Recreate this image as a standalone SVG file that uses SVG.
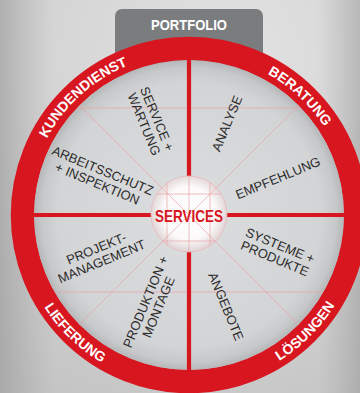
<svg xmlns="http://www.w3.org/2000/svg" width="360" height="393" viewBox="0 0 360 393">
<defs>
<radialGradient id="bg" cx="230" cy="60" r="380" gradientUnits="userSpaceOnUse">
<stop offset="0" stop-color="#e2e2e2"/>
<stop offset="0.6" stop-color="#d2d2d2"/>
<stop offset="1" stop-color="#c4c4c4"/>
</radialGradient>
<linearGradient id="bgL" x1="0" y1="0" x2="1" y2="0">
<stop offset="0" stop-color="#8e8e8e" stop-opacity="0.5"/>
<stop offset="0.15" stop-color="#9c9c9c" stop-opacity="0"/>
<stop offset="0.88" stop-color="#a0a0a0" stop-opacity="0"/>
<stop offset="1" stop-color="#8e8e8e" stop-opacity="0.45"/>
</linearGradient>
<radialGradient id="wheel" cx="189" cy="215" r="155" gradientUnits="userSpaceOnUse">
<stop offset="0" stop-color="#dcdddf"/>
<stop offset="0.85" stop-color="#d3d4d6"/>
<stop offset="0.95" stop-color="#c7c8ca"/>
<stop offset="1" stop-color="#b6b7b9"/>
</radialGradient>
<radialGradient id="hub" cx="189" cy="213" r="38" gradientUnits="userSpaceOnUse">
<stop offset="0" stop-color="#ffffff"/>
<stop offset="0.7" stop-color="#fbf9f9"/>
<stop offset="1" stop-color="#e2d6d7"/>
</radialGradient>
<clipPath id="inner"><circle cx="189" cy="215" r="155"/></clipPath>
<clipPath id="hubclip"><circle cx="189" cy="214" r="38"/></clipPath>
<path id="arcK" d="M27.5,215 A161.5,161.5 0 0 1 205.88,54.39"/>
<path id="arcB" d="M174.92,54.12 A161.5,161.5 0 0 1 350.48,217.82"/>
<path id="arcL" d="M17.60,209.01 A171.5,171.5 0 0 0 200.96,386.08"/>
<path id="arcS" d="M180.02,386.27 A171.5,171.5 0 0 0 360.27,206.02"/>
</defs>
<style>
.lbl{font-family:"Liberation Sans",Arial,sans-serif;font-size:13px;fill:#2b2b2b;text-anchor:middle}
.ring{font-family:"Liberation Sans",Arial,sans-serif;font-size:14px;font-weight:bold;fill:#ffffff;text-anchor:middle}
.faint{stroke:#eaa3a6;stroke-width:0.7;fill:none}
.div{stroke:#d7161f;stroke-width:4.2}
</style>
<rect width="360" height="393" fill="url(#bg)"/>
<rect width="360" height="393" fill="url(#bgL)"/>
<g id="portfolio">
<rect x="115" y="9" width="148" height="90" rx="7" fill="#7b7c7e"/>
<text x="189" y="29.5" font-family="Liberation Sans,Arial,sans-serif" font-size="15" font-weight="bold" fill="#ffffff" text-anchor="middle" textLength="76" lengthAdjust="spacingAndGlyphs">PORTFOLIO</text>
</g>
<g id="wheel-body">
<circle cx="189" cy="215" r="166.5" fill="none" stroke="#d7161f" stroke-width="23.5"/>
<circle cx="189" cy="215" r="155" fill="url(#wheel)"/>
<g clip-path="url(#inner)">
<line class="faint" x1="30" y1="108" x2="348" y2="108"/>
<line class="faint" x1="30" y1="292" x2="348" y2="292"/>
<line class="faint" x1="79" y1="105" x2="299" y2="325"/>
<line class="faint" x1="299" y1="105" x2="79" y2="325"/>
</g>
</g>
<g id="dividers">
<line class="div" x1="189" y1="58" x2="189" y2="372"/>
<line class="div" x1="32" y1="215" x2="346" y2="215"/>
</g>
<g id="ring-labels">
<text class="ring"><textPath href="#arcK" startOffset="50%">KUNDENDIENST</textPath></text>
<text class="ring"><textPath href="#arcB" startOffset="50%">BERATUNG</textPath></text>
<text class="ring"><textPath href="#arcL" startOffset="50%">LIEFERUNG</textPath></text>
<text class="ring"><textPath href="#arcS" startOffset="50%">LÖSUNGEN</textPath></text>
</g>
<g id="service-wartung" transform="translate(150.5,121.5) rotate(67.5)">
<text class="lbl" y="-2.5">SERVICE +</text>
<text class="lbl" y="11.5">WARTUNG</text>
</g>
<g id="analyse" transform="translate(227,123.5) rotate(-67.5)">
<text class="lbl" y="4.5">ANALYSE</text>
</g>
<g id="empfehlung" transform="translate(278,178) rotate(-22.5)">
<text class="lbl" y="4.5">EMPFEHLUNG</text>
</g>
<g id="systeme-produkte" transform="translate(277.5,252) rotate(22.5)">
<text class="lbl" y="-2.5">SYSTEME +</text>
<text class="lbl" y="11.5">PRODUKTE</text>
</g>
<g id="angebote" transform="translate(226,306.5) rotate(67.5)">
<text class="lbl" y="4.5">ANGEBOTE</text>
</g>
<g id="produktion-montage" transform="translate(152,304.5) rotate(-67.5)">
<text class="lbl" y="-2.5">PRODUKTION +</text>
<text class="lbl" y="11.5">MONTAGE</text>
</g>
<g id="projekt-management" transform="translate(99,255) rotate(-22.5)">
<text class="lbl" y="-2.5">PROJEKT-</text>
<text class="lbl" y="11.5">MANAGEMENT</text>
</g>
<g id="arbeitsschutz-inspektion" transform="translate(100,177) rotate(22.5)">
<text class="lbl" y="-2.5">ARBEITSSCHUTZ</text>
<text class="lbl" y="11.5">+ INSPEKTION</text>
</g>
<g id="services">
<circle cx="189" cy="214" r="38" fill="url(#hub)" stroke="#e9b9bb" stroke-width="0.8"/>
<g clip-path="url(#hubclip)">
<line class="faint" x1="167" y1="170" x2="167" y2="258"/>
<line class="faint" x1="210" y1="170" x2="210" y2="258"/>
<line class="faint" x1="145" y1="194" x2="233" y2="194"/>
<line class="faint" x1="145" y1="241" x2="233" y2="241"/>
<line class="faint" x1="140" y1="166" x2="238" y2="264"/>
<line class="faint" x1="238" y1="166" x2="140" y2="264"/>
<line class="faint" x1="189" y1="170" x2="189" y2="258"/>
</g>
<text x="189" y="221.5" font-family="Liberation Sans,Arial,sans-serif" font-size="16.5" font-weight="bold" fill="#d7161f" text-anchor="middle" textLength="68" lengthAdjust="spacingAndGlyphs">SERVICES</text>
</g>
</svg>
